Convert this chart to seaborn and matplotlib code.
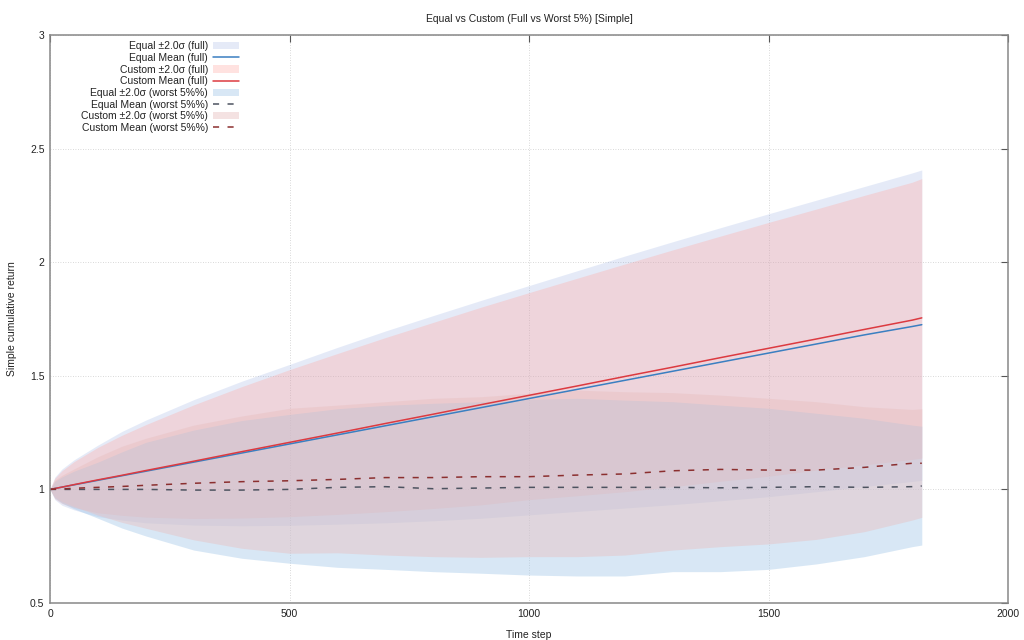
import numpy as np
import pandas as pd
import matplotlib
matplotlib.use("Agg")
import matplotlib.pyplot as plt
import seaborn as sns

# ---------------- data ----------------
time_steps = [0, 10, 25, 50, 100, 150, 200, 300, 400, 500, 600, 700, 800, 900,
              1000, 1100, 1200, 1300, 1400, 1500, 1600, 1700, 1800, 1820]

equal_full_mean = [1.0, 1.004, 1.01, 1.02, 1.04, 1.06, 1.08, 1.12, 1.16, 1.20, 1.24, 1.28,
                   1.32, 1.36, 1.40, 1.44, 1.48, 1.52, 1.56, 1.60, 1.64, 1.68, 1.717, 1.725]
equal_full_hi = [1.0, 1.054, 1.09, 1.13, 1.195, 1.255, 1.305, 1.395, 1.476, 1.55, 1.625, 1.697,
                 1.765, 1.832, 1.897, 1.962, 2.027, 2.09, 2.152, 2.213, 2.273, 2.333, 2.393, 2.406]
equal_full_lo = [1.0, 0.955, 0.93, 0.91, 0.88, 0.865, 0.853, 0.843, 0.84, 0.842, 0.847, 0.853,
                 0.862, 0.873, 0.888, 0.903, 0.918, 0.933, 0.950, 0.968, 0.99, 1.013, 1.035, 1.040]

custom_full_mean = [1.0, 1.004, 1.01, 1.021, 1.042, 1.062, 1.083, 1.124, 1.166, 1.207, 1.248, 1.29,
                    1.331, 1.373, 1.414, 1.455, 1.497, 1.538, 1.58, 1.621, 1.662, 1.704, 1.745, 1.755]
custom_full_hi = [1.0, 1.049, 1.082, 1.122, 1.185, 1.238, 1.285, 1.372, 1.452, 1.527, 1.598, 1.668,
                  1.735, 1.802, 1.866, 1.929, 1.992, 2.054, 2.115, 2.175, 2.234, 2.294, 2.352, 2.368]
custom_full_lo = [1.0, 0.959, 0.938, 0.92, 0.897, 0.886, 0.878, 0.872, 0.874, 0.88, 0.89, 0.902,
                  0.916, 0.932, 0.955, 0.972, 0.99, 1.012, 1.036, 1.058, 1.085, 1.108, 1.132, 1.138]

equal_worst_mean = [1.0, 1.0, 1.0, 1.0, 1.0, 1.0, 1.0, 0.997, 0.997, 1.0, 1.009, 1.012,
                    1.003, 1.006, 1.009, 1.009, 1.009, 1.009, 1.007, 1.009, 1.012, 1.009, 1.012, 1.015]
equal_worst_hi = [1.0, 1.035, 1.055, 1.08, 1.12, 1.165, 1.207, 1.261, 1.303, 1.33, 1.355, 1.37,
                  1.379, 1.386, 1.396, 1.401, 1.393, 1.386, 1.371, 1.357, 1.335, 1.313, 1.283, 1.278]
equal_worst_lo = [1.0, 0.962, 0.94, 0.915, 0.873, 0.83, 0.795, 0.733, 0.697, 0.675, 0.657, 0.648,
                  0.638, 0.631, 0.623, 0.619, 0.619, 0.638, 0.638, 0.648, 0.672, 0.704, 0.748, 0.755]

custom_worst_mean = [1.0, 1.001, 1.002, 1.005, 1.009, 1.013, 1.018, 1.027, 1.034, 1.038, 1.044, 1.052,
                     1.052, 1.056, 1.056, 1.063, 1.068, 1.082, 1.088, 1.085, 1.085, 1.097, 1.115, 1.115]
custom_worst_hi = [1.0, 1.04, 1.062, 1.09, 1.144, 1.19, 1.225, 1.283, 1.323, 1.357, 1.371, 1.386,
                   1.401, 1.408, 1.423, 1.437, 1.43, 1.426, 1.415, 1.401, 1.386, 1.364, 1.352, 1.355]
custom_worst_lo = [1.0, 0.965, 0.945, 0.925, 0.887, 0.855, 0.829, 0.778, 0.741, 0.719, 0.721, 0.711,
                   0.704, 0.701, 0.704, 0.704, 0.711, 0.733, 0.748, 0.76, 0.78, 0.814, 0.865, 0.877]

x_ticks = [0, 500, 1000, 1500, 2000]
x_tick_labels = ["0", "500", "1000", "1500", "2000"]
y_ticks = [0.5, 1.0, 1.5, 2.0, 2.5, 3.0]
y_tick_labels = ["0.5", "1", "1.5", "2", "2.5", "3"]

labels = ["Equal \u00b12.0\u03c3 (full)", "Equal Mean (full)",
          "Custom \u00b12.0\u03c3 (full)", "Custom Mean (full)",
          "Equal \u00b12.0\u03c3 (worst 5%%)", "Equal Mean (worst 5%%)",
          "Custom \u00b12.0\u03c3 (worst 5%%)", "Custom Mean (worst 5%%)"]

title = "Equal vs Custom (Full vs Worst 5%) [Simple]"

# ---------------- style ----------------
sns.set_style("white")
plt.rcParams["font.family"] = ["Liberation Sans", "DejaVu Sans"]
plt.rcParams["font.size"] = 7.5

fig = plt.figure(figsize=(10.24, 6.4), dpi=100)
ax = fig.add_axes([50 / 1024, 1 - 603 / 640, (1008 - 50) / 1024, (603 - 35) / 640])

dash = (0, (4, 5.5))
handles = []

h = ax.fill_between(time_steps, equal_full_lo, equal_full_hi, color="#6f8fd8", alpha=0.18,
                    linewidth=0)
handles.append(h)
sns.lineplot(x=time_steps, y=equal_full_mean, ax=ax, color="#3a7fc1", linewidth=1.1)
handles.append(ax.lines[-1])

h = ax.fill_between(time_steps, custom_full_lo, custom_full_hi, color="#ffaca8", alpha=0.35,
                    linewidth=0)
handles.append(h)
sns.lineplot(x=time_steps, y=custom_full_mean, ax=ax, color="#dc3a40", linewidth=1.1)
handles.append(ax.lines[-1])

h = ax.fill_between(time_steps, equal_worst_lo, equal_worst_hi, color="#9ec5e8", alpha=0.4,
                    linewidth=0)
handles.append(h)
sns.lineplot(x=time_steps, y=equal_worst_mean, ax=ax, color="#4d5360", linewidth=1.1,
             linestyle=dash)
handles.append(ax.lines[-1])

h = ax.fill_between(time_steps, custom_worst_lo, custom_worst_hi, color="#e8bfbf", alpha=0.44,
                    linewidth=0)
handles.append(h)
sns.lineplot(x=time_steps, y=custom_worst_mean, ax=ax, color="#8b2f2f", linewidth=1.1,
             linestyle=dash)
handles.append(ax.lines[-1])

# ---------------- axes ----------------
ax.set_xlim(0, 2000)
ax.set_ylim(0.5, 3.0)
ax.set_xticks(x_ticks)
ax.set_xticklabels(x_tick_labels)
ax.set_yticks(y_ticks)
ax.set_yticklabels(y_tick_labels)
ax.tick_params(direction="in", length=5, width=0.8, color="#555555", labelsize=7.5,
               labelcolor="#222222", top=True, right=True, pad=4)
for s in ax.spines.values():
    s.set_color("#888888")
    s.set_linewidth(1.1)
ax.grid(True, linestyle=(0, (1, 2)), color="#cccccc", linewidth=0.6)
ax.set_axisbelow(True)

ax.set_xlabel("Time step", fontsize=7.5, color="#222222", labelpad=8)
ax.set_ylabel("Simple cumulative return", fontsize=7.5, color="#222222", labelpad=9)
ax.set_title(title, fontsize=7.5, color="#222222", pad=9)

leg = ax.legend(handles, labels, loc="upper left", bbox_to_anchor=(0.026, 1.0),
                frameon=False, markerfirst=False, fontsize=7.5, handlelength=2.5,
                handletextpad=0.45, labelspacing=0.16, borderaxespad=0.4,
                borderpad=0.2)
for t in leg.get_texts():
    t.set_color("#222222")

fig.savefig("out.png", dpi=100)
